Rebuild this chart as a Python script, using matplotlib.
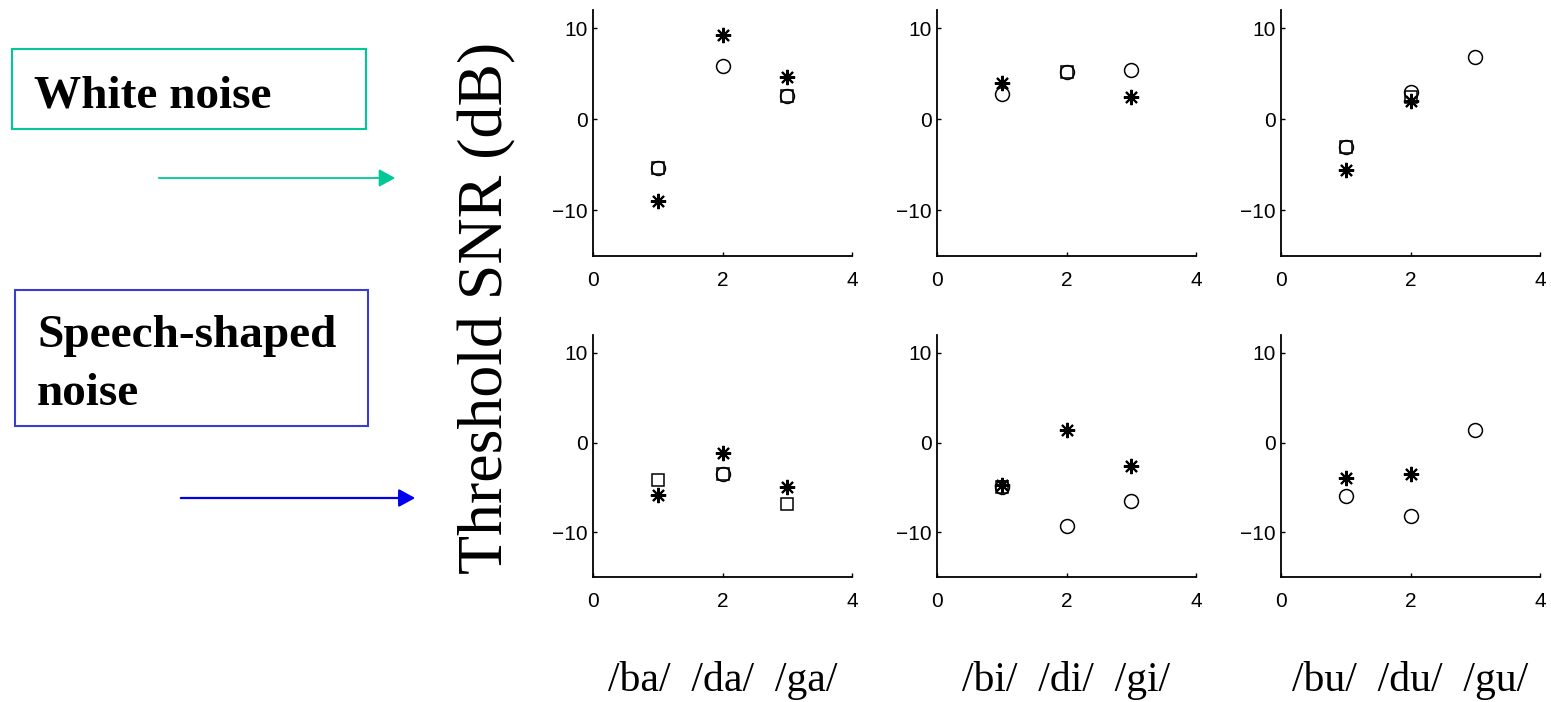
import numpy as np
import matplotlib
matplotlib.use("Agg")
import matplotlib.pyplot as plt
import matplotlib.patches as mpatches

nan = np.nan
W, H = 1551, 702

# x positions of the three syllables in each panel
syll_x = [1, 2, 3]
syll_labels = ["/ba/  /da/  /ga/", "/bi/  /di/  /gi/", "/bu/  /du/  /gu/"]

# threshold SNR (dB), white noise (top row), one list per vowel panel
white_circle = [[-5.3, 5.9, 2.6], [2.8, 5.2, 5.4], [-3.0, 3.0, 6.8]]
white_square = [[-5.3, nan, 2.6], [nan, 5.2, nan], [-3.0, 2.5, nan]]
white_star = [[-9.0, 9.3, 4.7], [4.0, nan, 2.4], [-5.6, 2.0, nan]]

# threshold SNR (dB), speech-shaped noise (bottom row)
speech_circle = [[nan, -3.5, nan], [-5.0, -9.3, -6.5], [-6.0, -8.2, 1.4]]
speech_square = [[-4.2, -3.5, -6.9], [-5.0, nan, nan], [nan, nan, nan]]
speech_star = [[-5.8, -1.2, -5.0], [-4.7, 1.4, -2.6], [-4.0, -3.5, nan]]


def fx(x):
    return x / W


def fy(y):
    return 1 - y / H


fig = plt.figure(figsize=(W / 100, H / 100), dpi=100)

lefts = [593, 937, 1281]      # left spine, pixels
ax_w = 259
rows = [(10, 256), (335, 577)]  # top / bottom of each row, pixels
asterisk = (8, 2, 0)

for r, (top, bot) in enumerate(rows):
    circ = white_circle if r == 0 else speech_circle
    sq = white_square if r == 0 else speech_square
    st = white_star if r == 0 else speech_star
    for c, left in enumerate(lefts):
        ax = fig.add_axes([fx(left), fy(bot), ax_w / W, (bot - top) / H])
        ax.plot(syll_x, sq[c], linestyle='none', marker='s', ms=9, mfc='none', mec='black', mew=1.1)
        ax.plot(syll_x, circ[c], linestyle='none', marker='o', ms=10, mfc='none', mec='black', mew=1.1)
        ax.plot(syll_x, st[c], linestyle='none', marker=asterisk, ms=11, mec='black', mew=1.5)
        ax.set_xlim(0, 4)
        ax.set_ylim(-15, 12)
        ax.set_xticks([0, 2, 4])
        ax.set_yticks([-10, 0, 10])
        ax.spines['top'].set_visible(False)
        ax.spines['right'].set_visible(False)
        ax.spines['left'].set_linewidth(1.3)
        ax.spines['bottom'].set_linewidth(1.3)
        ax.tick_params(direction='in', length=3, width=1, labelsize=15)
        ax.tick_params(axis='y', pad=4)
        ax.tick_params(axis='x', pad=11)
        for lab in ax.get_xticklabels() + ax.get_yticklabels():
            lab.set_family('Liberation Sans')
        ax.patch.set_alpha(0)

# shared y label
fig.text(fx(487), fy(308), "Threshold SNR (dB)", rotation=90, ha='center', va='center',
         family='Liberation Serif', fontsize=46)

# syllable labels below the panels
for c, left in enumerate(lefts):
    fig.text(fx(left + ax_w / 2), fy(680), syll_labels[c], ha='center', va='center',
             family='Liberation Serif', fontsize=30)

# legend-like boxes and arrows on the left
teal = '#00C896'
blue_box = '#3C3CD0'
blue_arrow = '#0000EE'

fig.add_artist(mpatches.Rectangle((fx(12), fy(129)), 354 / W, 80 / H, transform=fig.transFigure,
                                  fill=False, edgecolor=teal, linewidth=1.5))
fig.text(fx(34), fy(107), "White noise", ha='left', va='baseline',
         family='Liberation Serif', fontweight='bold', fontsize=34)
fig.add_artist(mpatches.FancyArrowPatch((fx(156), fy(178)), (fx(398), fy(178)), transform=fig.transFigure,
                                        arrowstyle='-|>,head_length=0.55,head_width=0.3',
                                        mutation_scale=18, color=teal, linewidth=1.3))

fig.add_artist(mpatches.Rectangle((fx(15), fy(426)), 353 / W, 136 / H, transform=fig.transFigure,
                                  fill=False, edgecolor=blue_box, linewidth=1.5))
fig.text(fx(37), fy(347), "Speech-shaped", ha='left', va='baseline',
         family='Liberation Serif', fontweight='bold', fontsize=34)
fig.text(fx(37), fy(405), "noise", ha='left', va='baseline',
         family='Liberation Serif', fontweight='bold', fontsize=34)
fig.add_artist(mpatches.FancyArrowPatch((fx(178), fy(498)), (fx(418), fy(498)), transform=fig.transFigure,
                                        arrowstyle='-|>,head_length=0.55,head_width=0.3',
                                        mutation_scale=18, color=blue_arrow, linewidth=1.6))

fig.savefig("out.png", dpi=100)
